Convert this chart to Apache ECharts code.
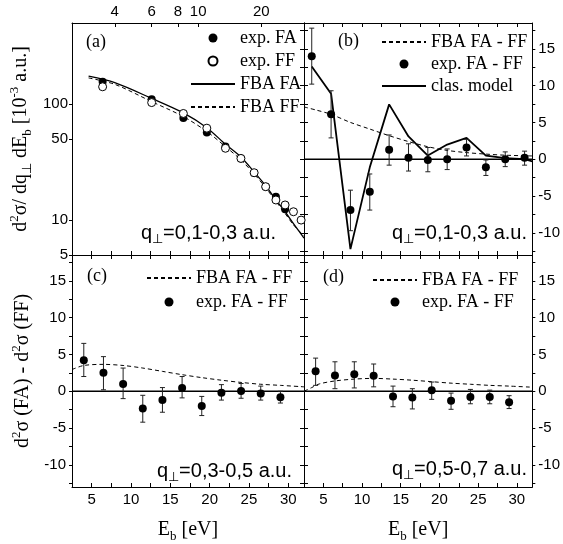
<!DOCTYPE html>
<html><head><meta charset="utf-8">
<script src="https://cdn.jsdelivr.net/npm/echarts@6/dist/echarts.min.js"></script>
<style>html,body{margin:0;padding:0;background:#fff}#c{width:563px;height:544px}</style>
</head><body><div id="c"></div>
<script>
// ---------- data ----------
// panel (a): cross sections (log scale)
const ebA = [3.5, 6, 8.5, 11, 13.5, 16, 18.5, 21, 23.5, 26, 28.5, 31];
const expFA = [156, 110, 76, 57, 43, 34, 25.5, 19.4, 15.9, 12.4];
const expFF = [141, 103, 83, 62, 41.6, 34, 25.6, 19.4, 14.9, 13.5, 11.8, 10.0];
const fbaX = [3, 4, 6, 8.5, 11, 13.5, 16, 18.5, 21, 23.5, 26, 28.5, 32];
const fbaFA = [174, 153, 112, 84, 62.6, 45, 35, 26, 19.8, 14.9, 11.8, 9.3, 7.0];
const fbaFF = [168, 148, 105, 78, 58, 43, 33, 25, 19, 14.5, 11.4, 9.1, 7.3];
// panel (b)
const ebB = [3.5, 6, 8.5, 11, 13.5, 16, 18.5, 21, 23.5, 26, 28.5, 31];
const diffB = [14.0, 6.1, -6.9, -4.4, 1.3, 0.2, -0.1, 0, 1.6, -1.1, 0, 0.2];
const diffBLo = [10.2, 2.9, -9.7, -6.9, -0.8, -1.6, -1.7, -1.4, 0.45, -2.2, -1.0, -0.8];
const diffBHi = [17.8, 9.3, -4.2, -2.0, 3.3, 2.1, 1.6, 1.4, 2.7, -0.1, 1.0, 1.1];
const fbaBX = [2.5, 4, 6, 8.5, 11, 13.5, 16, 18.5, 21, 23.5, 26, 28.5, 32];
const fbaB = [7.1, 6.7, 6.1, 5.0, 4.1, 3.2, 2.4, 1.7, 1.2, 0.9, 0.7, 0.55, 0.45];
const clasX = [3.5, 6, 8.5, 11, 13.5, 16, 18.5, 21, 23.5, 26, 28.5, 31, 32];
const clas = [12.6, 8.9, -12.2, -1.1, 7.45, 3.1, 0.5, 2.0, 2.9, 0.5, 0.15, 0, -0.3];
// panels (c) and (d)
const ebCD = [4, 6.5, 9, 11.5, 14, 16.5, 19, 21.5, 24, 26.5, 29];
const diffC = [4.2, 2.5, 1.0, -2.35, -1.2, 0.45, -2.0, -0.2, 0.05, -0.3, -0.8];
const diffCLo = [2.0, 0.2, -1.0, -4.2, -2.85, -0.9, -3.3, -1.2, -0.95, -1.2, -1.6];
const diffCHi = [6.5, 4.7, 3.15, -0.55, 0.5, 2.0, -0.7, 0.9, 1.05, 0.7, 0.0];
const fbaCX = [2.5, 4, 6.5, 9, 11.5, 14, 16.5, 19, 21.5, 24, 26.5, 29, 32];
const fbaC = [2.95, 3.5, 3.65, 3.5, 3.15, 2.7, 2.25, 1.85, 1.5, 1.2, 0.95, 0.8, 0.6];
const diffD = [2.7, 2.15, 2.3, 2.1, -0.7, -0.85, 0.15, -1.3, -0.77, -0.77, -1.5];
const diffDLo = [0.8, 0.35, 0.45, 0.6, -2.1, -2.4, -1.1, -2.45, -1.7, -1.7, -2.35];
const diffDHi = [4.5, 4.0, 4.0, 3.7, 0.7, 0.35, 1.25, -0.25, 0.25, 0.15, -0.6];
const fbaDX = [2.5, 3.5, 4.5, 6.5, 9, 11.5, 14, 16.5, 19, 21.5, 24, 26.5, 29, 32];
const fbaD = [0, 0.5, 1.0, 1.4, 1.65, 1.75, 1.65, 1.5, 1.3, 1.1, 0.95, 0.8, 0.7, 0.55];
const zeroX = [2.5, 32];
// ticks / labels
const xTicks = [5, 7.5, 10, 12.5, 15, 17.5, 20, 22.5, 25, 27.5, 30];
const xLabels = [5, 10, 15, 20, 25, 30];
const yTicks = [-12.5, -10, -7.5, -5, -2.5, 0, 2.5, 5, 7.5, 10, 12.5, 15, 17.5];
const yLabels = [-10, -5, 0, 5, 10, 15];
const logXLabels = [4, 6, 8, 10, 20];
const logYLabels = [5, 10, 50, 100];

// ---------- helpers ----------
const serif = '"Liberation Serif", "Times New Roman", serif';
const sans = '"Liberation Sans", Arial, sans-serif';
const axisLine = {show: true, onZero: false, lineStyle: {color: '#000', width: 1}};
const richBase = {
  n: {fontFamily: serif, fontSize: 20, fontWeight: 'normal', lineHeight: 26, color: '#000'},
  sup: {fontFamily: serif, fontSize: 13, fontWeight: 'normal', lineHeight: 12, verticalAlign: 'top', color: '#000'},
  sub: {fontFamily: serif, fontSize: 13, fontWeight: 'normal', lineHeight: 12, verticalAlign: 'bottom', color: '#000'}
};
function pair(xs, ys) { return ys.map((y, i) => [xs[i], y]); }
function triple(xs, lo, hi) { return xs.map((x, i) => [x, lo[i], hi[i]]); }

function xLin(grid, position, showLabels, name) {
  return {
    type: 'value', gridIndex: grid, position, min: 2.5, max: 32,
    axisLine, splitLine: {show: false},
    axisTick: {show: true, inside: true, length: 4, customValues: xTicks, lineStyle: {color: '#000'}},
    axisLabel: {show: showLabels, customValues: xLabels, margin: 5, color: '#000', fontFamily: sans, fontSize: 15},
    name: name || '', nameLocation: 'middle', nameGap: 30,
    nameTextStyle: {rich: richBase}
  };
}
function yLin(grid, position, showLabels, inside, name) {
  return {
    type: 'value', gridIndex: grid, position, min: -13, max: 18.5,
    axisLine, splitLine: {show: false},
    axisTick: {show: true, inside, length: inside ? 4 : 3, customValues: yTicks, lineStyle: {color: '#000'}},
    axisLabel: {show: showLabels, customValues: yLabels, margin: 6, color: '#000', fontFamily: sans, fontSize: 15},
    name: name || '', nameLocation: 'middle', nameGap: 36,
    nameTextStyle: {rich: richBase}
  };
}
function errRender(params, api) {
  const x = api.value(0);
  const lo = api.coord([x, api.value(1)]);
  const hi = api.coord([x, api.value(2)]);
  const cw = 2.5;
  const st = {stroke: '#222', lineWidth: 1};
  return {type: 'group', children: [
    {type: 'line', shape: {x1: lo[0], y1: lo[1], x2: hi[0], y2: hi[1]}, style: st},
    {type: 'line', shape: {x1: lo[0] - cw, y1: lo[1], x2: lo[0] + cw, y2: lo[1]}, style: st},
    {type: 'line', shape: {x1: hi[0] - cw, y1: hi[1], x2: hi[0] + cw, y2: hi[1]}, style: st}
  ]};
}
function errSeries(xi, yi, data) {
  return {type: 'custom', xAxisIndex: xi, yAxisIndex: yi, renderItem: errRender,
    data, encode: {x: 0, y: [1, 2]}, z: 3, silent: true};
}
function dots(name, xi, yi, data) {
  return {type: 'scatter', name, xAxisIndex: xi, yAxisIndex: yi, data,
    symbol: 'circle', symbolSize: 8, itemStyle: {color: '#000', opacity: 1}, z: 5};
}
function lineS(name, xi, yi, data, width, dashed, smooth) {
  return {type: 'line', name, xAxisIndex: xi, yAxisIndex: yi, data, smooth: smooth ? 0.3 : false,
    symbol: 'none', itemStyle: {color: '#000', opacity: 0},
    lineStyle: {color: '#000', width, type: dashed ? [4, 3] : 'solid'}, z: 2};
}
function zeroLine(xi, yi) {
  return {type: 'line', xAxisIndex: xi, yAxisIndex: yi, data: pair(zeroX, [0, 0]),
    symbol: 'none', lineStyle: {color: '#000', width: 1.3}, silent: true, z: 1};
}
function legend(left, top, data, gap) {
  return {left, top, padding: 0, orient: 'vertical', itemWidth: 44, itemHeight: 9, itemGap: gap,
    data: data.map(n => (n.indexOf('exp') === 0 ? n : {name: n, itemStyle: {opacity: 0}})),
    selectedMode: false, textStyle: {fontFamily: serif, fontSize: 18, color: '#000'}};
}
function qLabel(left, top, txt) {
  return {left, top, padding: 0, text: '{q|q}{s|⊥}{t|' + txt + '}',
    textStyle: {fontWeight: 'normal', rich: {
      q: {fontFamily: sans, fontSize: 20, fontWeight: 'normal', lineHeight: 26, color: '#000'},
      s: {fontFamily: sans, fontSize: 13, fontWeight: 'normal', lineHeight: 12, verticalAlign: 'bottom', color: '#000'},
      t: {fontFamily: sans, fontSize: 20, fontWeight: 'normal', lineHeight: 26, color: '#000'}
    }}};
}
function pLabel(left, top, txt) {
  return {left, top, padding: 0, text: txt, textStyle: {fontFamily: serif, fontSize: 18, fontWeight: 'normal', lineHeight: 20, color: '#000'}};
}

const option = {
  animation: false,
  backgroundColor: '#fff',
  grid: [
    {left: 72, top: 23, width: 232, height: 232},
    {left: 304, top: 23, width: 232, height: 232},
    {left: 72, top: 255, width: 232, height: 233},
    {left: 304, top: 255, width: 232, height: 233}
  ],
  xAxis: [
    {type: 'log', gridIndex: 0, position: 'top', min: 2.5, max: 32, logBase: 10,
      axisLine, splitLine: {show: false},
      axisTick: {show: true, inside: true, length: 4, customValues: logXLabels, lineStyle: {color: '#000'}},
      axisLabel: {customValues: logXLabels, margin: 4, color: '#000', fontFamily: sans, fontSize: 15}},
    xLin(0, 'bottom', false),
    xLin(1, 'top', false),
    xLin(1, 'bottom', false),
    xLin(2, 'top', false),
    xLin(2, 'bottom', true, '{n|E}{sub|b}{n| [eV]}'),
    xLin(3, 'top', false),
    xLin(3, 'bottom', true, '{n|E}{sub|b}{n| [eV]}')
  ],
  yAxis: [
    {type: 'log', gridIndex: 0, position: 'left', min: 5, max: 500, logBase: 10,
      axisLine, splitLine: {show: false},
      axisTick: {show: true, inside: false, length: 3, customValues: logYLabels, lineStyle: {color: '#000'}},
      axisLabel: {customValues: logYLabels, margin: 4, color: '#000', fontFamily: sans, fontSize: 15},
      name: '{n|d}{sup|2}{n|σ/ dq}{sub|⊥}{n| dE}{sub|b}{n| [10}{sup|-3}{n| a.u.]}',
      nameLocation: 'middle', nameGap: 38, nameTextStyle: {rich: richBase}},
    yLin(0, 'right', false, true),
    yLin(1, 'left', false, true),
    yLin(1, 'right', true, false),
    yLin(2, 'left', true, false, '{n|d}{sup|2}{n|σ (FA) - d}{sup|2}{n|σ (FF)}'),
    yLin(2, 'right', false, true),
    yLin(3, 'left', false, true),
    yLin(3, 'right', true, false)
  ],
  legend: [
    legend(190, 29, ['exp. FA', 'exp. FF', 'FBA FA', 'FBA FF'], 5),
    legend(381, 33, ['FBA FA - FF', 'exp. FA - FF', 'clas. model'], 4),
    legend(146, 269, ['FBA FA - FF', 'exp. FA - FF'], 6),
    legend(372, 271, ['FBA FA - FF', 'exp. FA - FF'], 4)
  ],
  title: [
    pLabel(86, 32, '(a)'), pLabel(338, 31, '(b)'), pLabel(87, 266, '(c)'), pLabel(323, 267, '(d)'),
    qLabel(141, 220, '=0,1-0,3 a.u.'), qLabel(392, 220, '=0,1-0,3 a.u.'),
    qLabel(157, 458, '=0,3-0,5 a.u.'), qLabel(392, 456, '=0,5-0,7 a.u.')
  ],
  series: [
    // (a)
    lineS('FBA FA', 0, 0, pair(fbaX, fbaFA), 1.3, false, true),
    lineS('FBA FF', 0, 0, pair(fbaX, fbaFF), 1, true, true),
    dots('exp. FA', 0, 0, pair(ebA, expFA)),
    {type: 'scatter', name: 'exp. FF', xAxisIndex: 0, yAxisIndex: 0, data: pair(ebA, expFF),
      symbol: 'circle', symbolSize: 8, itemStyle: {color: '#fff', borderColor: '#000', borderWidth: 1, opacity: 1}, z: 6},
    // (b)
    zeroLine(3, 3),
    lineS('FBA FA - FF', 3, 3, pair(fbaBX, fbaB), 1, true, true),
    errSeries(3, 3, triple(ebB, diffBLo, diffBHi)),
    dots('exp. FA - FF', 3, 3, pair(ebB, diffB)),
    lineS('clas. model', 3, 3, pair(clasX, clas), 1.8, false, false),
    // (c)
    zeroLine(5, 4),
    lineS('FBA FA - FF', 5, 4, pair(fbaCX, fbaC), 1, true, true),
    errSeries(5, 4, triple(ebCD, diffCLo, diffCHi)),
    dots('exp. FA - FF', 5, 4, pair(ebCD, diffC)),
    // (d)
    zeroLine(7, 7),
    lineS('FBA FA - FF', 7, 7, pair(fbaDX, fbaD), 1, true, true),
    errSeries(7, 7, triple(ebCD, diffDLo, diffDHi)),
    dots('exp. FA - FF', 7, 7, pair(ebCD, diffD))
  ]
};
const chart = echarts.init(document.getElementById('c'), null, {renderer: 'canvas'});
chart.setOption(option);
</script></body></html>
